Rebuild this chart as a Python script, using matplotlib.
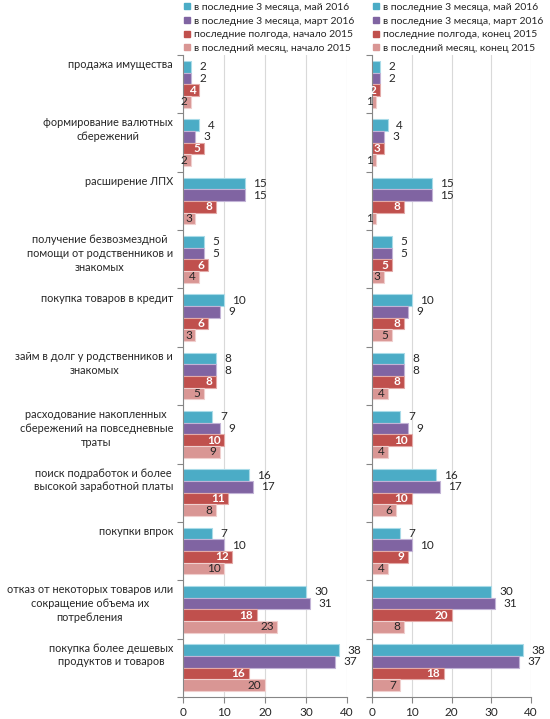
import matplotlib
matplotlib.use("Agg")
import matplotlib.pyplot as plt
from matplotlib.lines import Line2D
from matplotlib.transforms import blended_transform_factory

plt.rcParams["font.family"] = ["Lato", "DejaVu Sans"]

categories = [
    "продажа имущества",
    "формирование валютных\nсбережений",
    "расширение ЛПХ",
    "получение безвозмездной\nпомощи от родственников и\nзнакомых",
    "покупка товаров в кредит",
    "займ в долг у родственников и\nзнакомых",
    "расходование накопленных\nсбережений на повседневные\nтраты",
    "поиск подработок и более\nвысокой заработной платы",
    "покупки впрок",
    "отказ от некоторых товаров или\nсокращение объема их\nпотребления",
    "покупка более дешевых\nпродуктов и товаров",
]

left_labels = [
    "в последние 3 месяца, май 2016",
    "в последние 3 месяца, март 2016",
    "последние полгода, начало 2015",
    "в последний месяц, начало 2015",
]
right_labels = [
    "в последние 3 месяца, май 2016",
    "в последние 3 месяца, март 2016",
    "последние полгода, конец 2015",
    "в последний месяц, конец 2015",
]

left_may16 = [2, 4, 15, 5, 10, 8, 7, 16, 7, 30, 38]
left_mar16 = [2, 3, 15, 5, 9, 8, 9, 17, 10, 31, 37]
left_half15 = [4, 5, 8, 6, 6, 8, 10, 11, 12, 18, 16]
left_month15 = [2, 2, 3, 4, 3, 5, 9, 8, 10, 23, 20]

right_may16 = [2, 4, 15, 5, 10, 8, 7, 16, 7, 30, 38]
right_mar16 = [2, 3, 15, 5, 9, 8, 9, 17, 10, 31, 37]
right_half15 = [2, 3, 8, 5, 8, 8, 10, 10, 9, 20, 18]
right_month15 = [1, 1, 1, 3, 5, 4, 4, 6, 4, 8, 7]

colors = ["#4bacc6", "#8064a2", "#c0504d", "#d99694"]
edges = ["#a9dbe8", "#c2b3d6", "#e3a9a7", "#f0cfce"]
offsets = [-0.3, -0.1, 0.1, 0.3]

W, H = 550, 719
fig = plt.figure(figsize=(W / 100, H / 100), dpi=100)
ax_l = fig.add_axes([183 / W, 22 / H, 164 / W, 642 / H])
ax_r = fig.add_axes([372 / W, 22 / H, 159 / W, 642 / H])


def draw_panel(ax, series, labels):
    n = len(categories)
    for j, vals in enumerate(series):
        ys = [k + offsets[j] for k in range(n)]
        ax.barh(ys, vals, height=0.2, color=colors[j], edgecolor=edges[j],
                linewidth=0.8, zorder=3)
        for y, v in zip(ys, vals):
            if j < 2:
                ax.annotate(str(v), (v, y), xytext=(6, 0), textcoords="offset points",
                            ha="left", va="center", fontsize=8.5, color="#262626")
            else:
                ax.annotate(str(v), (v, y), xytext=(-2.5, 0), textcoords="offset points",
                            ha="right", va="center", fontsize=8.5,
                            fontweight="bold" if j == 2 else "normal",
                            color="white" if j == 2 else "#262626", zorder=5)
    ax.set_xlim(0, 40)
    ax.set_ylim(n - 0.5, -0.5)
    ax.set_xticks([0, 10, 20, 30, 40])
    ax.set_yticks([k - 0.5 for k in range(n + 1)])
    ax.set_yticklabels([])
    ax.tick_params(axis="y", length=4, color="#868686", width=0.8)
    ax.tick_params(axis="x", length=4, color="#868686", width=0.8, labelsize=8.5,
                   labelcolor="#262626")
    ax.grid(axis="x", color="#d9d9d9", linewidth=0.8, zorder=0)
    for s in ["top", "right"]:
        ax.spines[s].set_visible(False)
    for s in ["left", "bottom"]:
        ax.spines[s].set_color("#868686")
        ax.spines[s].set_linewidth(0.8)
        ax.spines[s].set_zorder(4)
    handles = [Line2D([], [], marker="s", linestyle="none", markersize=5,
                      markerfacecolor=c, markeredgecolor=c) for c in colors]
    bb = ax.get_position()
    fig.legend(handles, labels, loc="upper left", bbox_to_anchor=(bb.x0 - 0.01, 1.005),
               frameon=False, fontsize=7.5, handlelength=0.6, handletextpad=0.4,
               labelspacing=0.42, borderaxespad=0.2, labelcolor="#262626")


draw_panel(ax_l, [left_may16, left_mar16, left_half15, left_month15], left_labels)
draw_panel(ax_r, [right_may16, right_mar16, right_half15, right_month15], right_labels)

# category labels: block right-aligned, lines centred inside the block
tr = blended_transform_factory(fig.transFigure, ax_l.transData)
for k, c in enumerate(categories):
    fig.text(173 / W, k - 0.43, c, transform=tr, ha="right", va="top",
             multialignment="center", fontsize=7.9, color="#262626", linespacing=1.3)

fig.savefig("out.png", dpi=100)
